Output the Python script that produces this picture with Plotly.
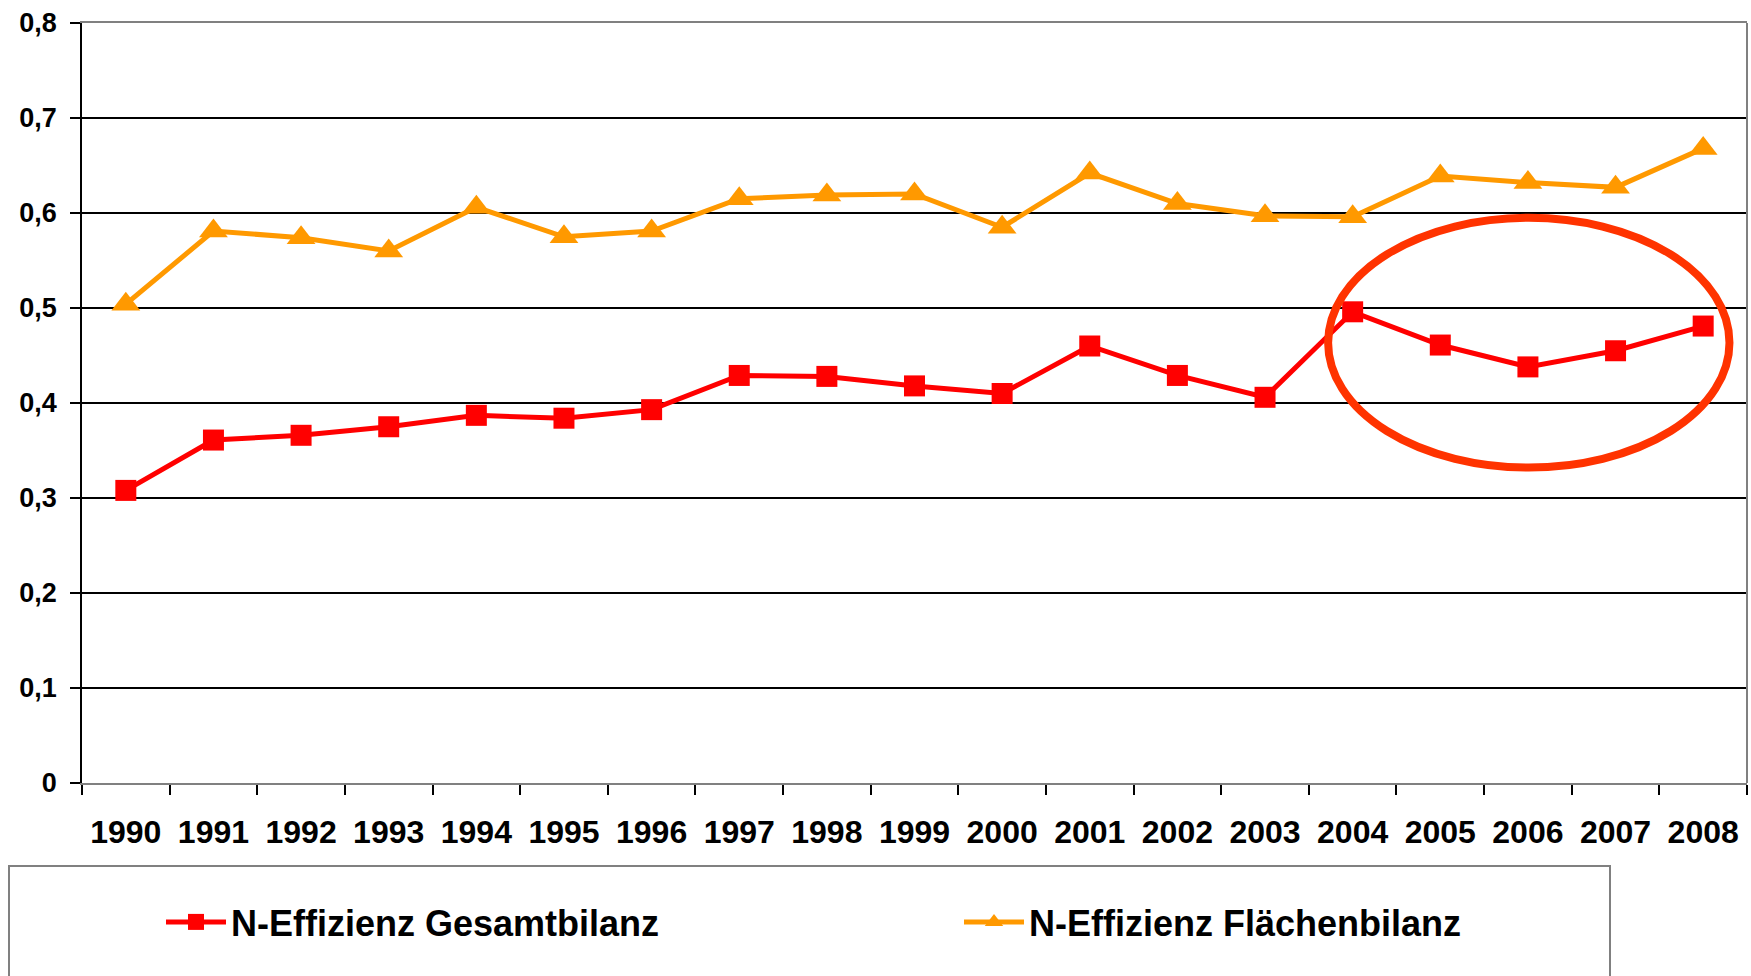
import plotly.graph_objects as go

years = ["1990", "1991", "1992", "1993", "1994", "1995", "1996", "1997", "1998", "1999",
         "2000", "2001", "2002", "2003", "2004", "2005", "2006", "2007", "2008"]
gesamtbilanz = [0.308, 0.361, 0.366, 0.375, 0.387, 0.384, 0.393, 0.429, 0.428, 0.418,
                0.410, 0.460, 0.429, 0.406, 0.496, 0.461, 0.438, 0.455, 0.481]
flaechenbilanz = [0.504, 0.581, 0.574, 0.560, 0.606, 0.575, 0.581, 0.615, 0.619, 0.620,
                  0.585, 0.642, 0.610, 0.597, 0.596, 0.639, 0.632, 0.627, 0.668]
series_names = ["N-Effizienz Gesamtbilanz", "N-Effizienz Flächenbilanz"]

FONT = "Liberation Sans, Arial, sans-serif"
RED = "#FF0000"
ORANGE = "#FF9900"
GRAY = "#808080"

fig = go.Figure()
fig.add_trace(go.Scatter(
    x=years, y=gesamtbilanz, name=series_names[0], mode="lines+markers",
    line=dict(color=RED, width=5),
    marker=dict(symbol="square", size=21, color=RED),
    legend="legend",
))
fig.add_trace(go.Scatter(
    x=years, y=flaechenbilanz, name=series_names[1], mode="lines+markers",
    line=dict(color=ORANGE, width=5),
    marker=dict(symbol="triangle-up", size=25, color=ORANGE),
    legend="legend2",
))

W, H = 1751, 976
ml, mr, mt, mb = 82, 4, 23, 193
pw = W - ml - mr
ph = H - mt - mb

def px_x(p):
    return (p - ml) / pw

def px_y(p):
    return (H - mb - p) / ph

legend_font = dict(family=FONT, size=36, weight="bold", color="black")

fig.update_layout(
    width=W, height=H,
    margin=dict(l=ml, r=mr, t=mt, b=mb, pad=0),
    paper_bgcolor="white", plot_bgcolor="white",
    separators=",.",
    font=dict(family=FONT, color="black"),
    showlegend=True,
    legend=dict(
        orientation="h",
        x=px_x(161), xanchor="left",
        y=px_y(922), yanchor="middle",
        font=legend_font,
        bgcolor="rgba(0,0,0,0)",
        itemwidth=60,
    ),
    legend2=dict(
        orientation="h",
        x=px_x(959), xanchor="left",
        y=px_y(922), yanchor="middle",
        font=legend_font,
        bgcolor="rgba(0,0,0,0)",
        itemwidth=60,
    ),
    xaxis=dict(
        type="category",
        range=[-0.5, len(years) - 0.5],
        tickson="boundaries",
        ticks="outside", ticklen=10, tickwidth=1.5, tickcolor="black",
        showline=True, linecolor=GRAY, linewidth=2, mirror=True,
        showgrid=False, zeroline=False,
        tickfont=dict(family=FONT, size=32, weight="bold", color="black"),
        ticklabelstandoff=20,
    ),
    yaxis=dict(
        range=[0, 0.8], tick0=0, dtick=0.1,
        ticks="outside", ticklen=10, tickwidth=1.5, tickcolor="black",
        showline=True, linecolor="black", linewidth=1.5,
        showgrid=True, gridcolor="black", gridwidth=1.5,
        zeroline=False,
        tickfont=dict(family=FONT, size=27, weight="bold", color="black"),
        ticklabelstandoff=8,
    ),
    shapes=[
        dict(type="line", xref="paper", yref="paper", x0=1, x1=1, y0=0, y1=1,
             line=dict(color=GRAY, width=2)),
        dict(type="rect", xref="paper", yref="paper",
             x0=px_x(9), x1=px_x(1610), y0=px_y(866), y1=px_y(1010),
             line=dict(color=GRAY, width=2), fillcolor="rgba(0,0,0,0)", layer="below"),
        dict(type="circle", xref="x", yref="y", x0=13.72, x1=18.30, y0=0.332, y1=0.595,
             line=dict(color="#FF3300", width=8), layer="above"),
    ],
)

fig.write_html("out.html", config={"displayModeBar": False},
               post_script="document.body.style.margin='0';document.body.style.overflow='hidden';")
